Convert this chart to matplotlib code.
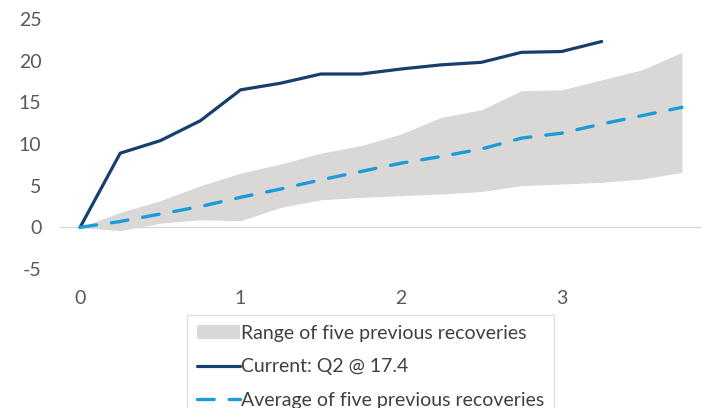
import matplotlib.pyplot as plt

# years since trough (quarterly steps)
years = [0, 0.25, 0.5, 0.75, 1.0, 1.25, 1.5, 1.75, 2.0, 2.25, 2.5, 2.75, 3.0, 3.25, 3.5, 3.75]
current_years = years[:14]
current = [0, 8.9, 10.4, 12.8, 16.5, 17.3, 18.4, 18.4, 19.0, 19.5, 19.8, 21.0, 21.1, 22.3]
average = [0, 0.7, 1.6, 2.5, 3.6, 4.6, 5.7, 6.7, 7.7, 8.5, 9.4, 10.7, 11.3, 12.4, 13.4, 14.4]
range_low = [0, -0.4, 0.5, 0.9, 0.8, 2.4, 3.3, 3.6, 3.8, 4.0, 4.3, 5.0, 5.2, 5.4, 5.8, 6.6]
range_high = [0, 1.8, 3.2, 5.0, 6.5, 7.6, 8.9, 9.8, 11.2, 13.2, 14.1, 16.4, 16.5, 17.7, 18.9, 21.0]

plt.rcParams['font.family'] = ['Lato', 'DejaVu Sans']
plt.rcParams['axes.unicode_minus'] = False

fig = plt.figure(figsize=(7.02, 4.08), dpi=100)
ax = fig.add_axes([0.0855, 0.3407, 0.9145, 0.6127])

band = ax.fill_between(years, range_low, range_high, color='#d9d8d7', linewidth=0,
                       label='Range of five previous recoveries')
line_cur, = ax.plot(current_years, current, color='#173f6e', linewidth=2.3,
                    solid_capstyle='round', label='Current: Q2 @ 17.4')
line_avg, = ax.plot(years, average, color='#1b9bd7', linewidth=2.4, dashes=(5, 4.5),
                    dash_capstyle='round', label='Average of five previous recoveries')

ax.axhline(0, color='#d9d9d9', linewidth=1, zorder=0)

ax.set_xlim(-0.125, 3.875)
ax.set_ylim(-5, 25)
ax.set_yticks([-5, 0, 5, 10, 15, 20, 25])
ax.set_xticks([0, 1, 2, 3])
for s in ax.spines.values():
    s.set_visible(False)
ax.tick_params(length=0, labelsize=14, colors='#595959')
ax.tick_params(axis='y', pad=13.5)
ax.tick_params(axis='x', pad=15)

leg = fig.legend(handles=[band, line_cur, line_avg], loc='upper left',
                 bbox_to_anchor=(187 / 702, 1 - 315 / 408), fontsize=14,
                 frameon=True, fancybox=False, edgecolor='#d9d9d9',
                 handlelength=2.25, handletextpad=0.05, labelspacing=0.86,
                 borderpad=0.5, borderaxespad=0)
leg.get_frame().set_linewidth(1)
for t in leg.get_texts():
    t.set_color('#404040')

fig.savefig('out.png', dpi=100)
